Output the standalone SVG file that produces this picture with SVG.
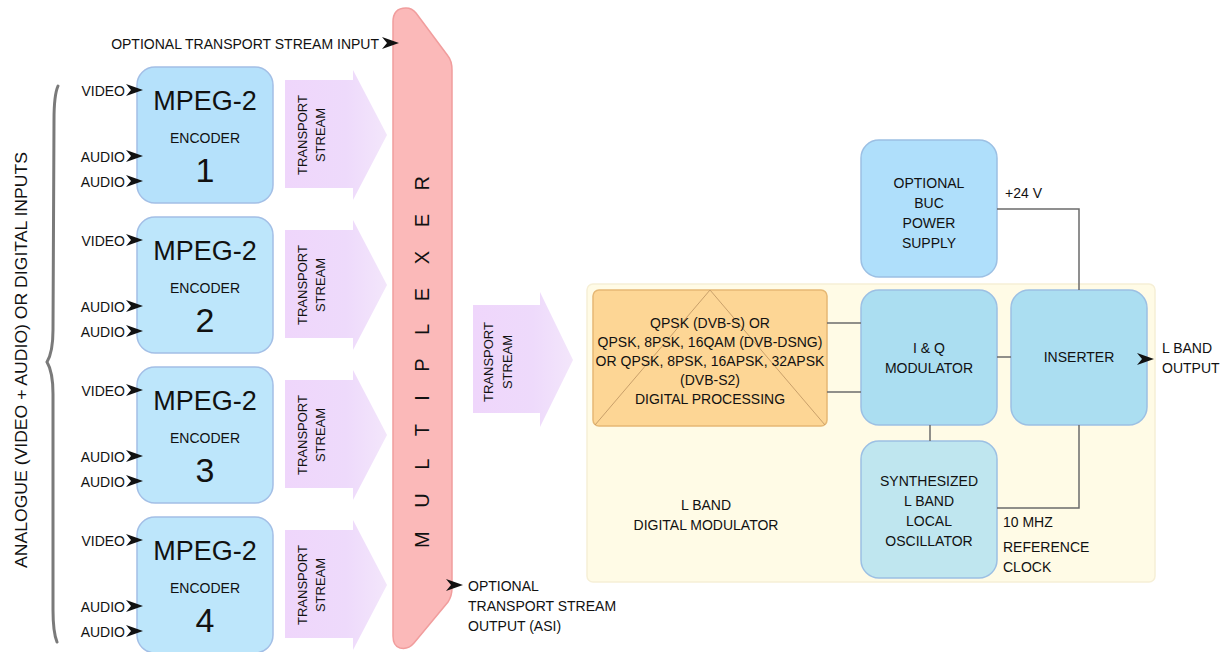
<svg xmlns="http://www.w3.org/2000/svg" xmlns:xlink="http://www.w3.org/1999/xlink" width="1229" height="652" viewBox="0 0 1229 652">
<style>
text{font-family:"Liberation Sans",Arial,sans-serif;fill:#111}
.enc{fill:#bde6fb;stroke:#a3bfe6;stroke-width:1.5}
.mpeg{font-size:27px;text-anchor:middle}
.encl{font-size:14px;text-anchor:middle}
.num{font-size:34px;text-anchor:middle}
.lbl{font-size:14px}
.lblr{font-size:14px;text-anchor:end}
.ts{fill:url(#tsg)}
.tst{font-size:13px;text-anchor:middle}
.blk{stroke:#9cc0e4;stroke-width:1.5}
.bt{font-size:14px;text-anchor:middle}
.wire{fill:none;stroke:#6b6b6b;stroke-width:1.5}
</style>
<defs>
<linearGradient id="tsg" x1="0" y1="0" x2="1" y2="0">
<stop offset="0" stop-color="#efd6fb"/>
<stop offset="0.6" stop-color="#eedafb"/>
<stop offset="1" stop-color="#f3e6fb"/>
</linearGradient>
<path id="ah" d="M-1,-6 L16,0 L-1,6 L4,0 Z" fill="#111"/>
</defs>
<rect width="1229" height="652" fill="#ffffff"/>

<!-- left brace and label -->
<g id="inputs-brace">
<path d="M58,86 Q54,95 54,120 L53,330 Q53,352 47,362 Q53,372 53,394 L53,610 Q53,632 57,642" fill="none" stroke="#7a7a7a" stroke-width="3" stroke-linecap="round"/>
<text transform="translate(27,360) rotate(-90)" font-size="16" text-anchor="middle" textLength="416" lengthAdjust="spacingAndGlyphs">ANALOGUE (VIDEO  + AUDIO) OR DIGITAL INPUTS</text>
</g>

<!-- Encoders -->
<g id="encoder1">
<rect class="enc" x="137" y="67" width="136" height="136" rx="18" style="fill:#b5e1fb"/>
<text class="mpeg" x="205" y="110">MPEG-2</text>
<text class="encl" x="205" y="143">ENCODER</text>
<text class="num" x="205" y="182">1</text>
</g>
<g id="encoder2">
<rect class="enc" x="137" y="217" width="136" height="136" rx="18"/>
<text class="mpeg" x="205" y="260">MPEG-2</text>
<text class="encl" x="205" y="293">ENCODER</text>
<text class="num" x="205" y="332">2</text>
</g>
<g id="encoder3">
<rect class="enc" x="137" y="367" width="136" height="136" rx="18"/>
<text class="mpeg" x="205" y="410">MPEG-2</text>
<text class="encl" x="205" y="443">ENCODER</text>
<text class="num" x="205" y="482">3</text>
</g>
<g id="encoder4">
<rect class="enc" x="137" y="517" width="136" height="136" rx="18"/>
<text class="mpeg" x="205" y="560">MPEG-2</text>
<text class="encl" x="205" y="593">ENCODER</text>
<text class="num" x="205" y="632">4</text>
</g>

<!-- Input labels -->
<g id="input-labels">
<text class="lblr" x="125" y="96">VIDEO</text>
<text class="lblr" x="125" y="162">AUDIO</text>
<text class="lblr" x="125" y="187">AUDIO</text>
<text class="lblr" x="125" y="246">VIDEO</text>
<text class="lblr" x="125" y="312">AUDIO</text>
<text class="lblr" x="125" y="337">AUDIO</text>
<text class="lblr" x="125" y="396">VIDEO</text>
<text class="lblr" x="125" y="462">AUDIO</text>
<text class="lblr" x="125" y="487">AUDIO</text>
<text class="lblr" x="125" y="546">VIDEO</text>
<text class="lblr" x="125" y="612">AUDIO</text>
<text class="lblr" x="125" y="637">AUDIO</text>
<text class="lblr" x="379" y="49">OPTIONAL TRANSPORT STREAM INPUT</text>
</g>

<!-- Transport stream arrows -->
<g id="ts1">
<path class="ts" d="M285,80 L353,80 L353,70 L387,135 L353,200 L353,188 L285,188 Z"/>
<text class="tst" transform="translate(307,135) rotate(-90)">TRANSPORT</text>
<text class="tst" transform="translate(325,135) rotate(-90)">STREAM</text>
</g>
<g id="ts2">
<path class="ts" d="M285,230 L353,230 L353,220 L387,285 L353,350 L353,338 L285,338 Z"/>
<text class="tst" transform="translate(307,285) rotate(-90)">TRANSPORT</text>
<text class="tst" transform="translate(325,285) rotate(-90)">STREAM</text>
</g>
<g id="ts3">
<path class="ts" d="M285,380 L353,380 L353,370 L387,435 L353,500 L353,488 L285,488 Z"/>
<text class="tst" transform="translate(307,435) rotate(-90)">TRANSPORT</text>
<text class="tst" transform="translate(325,435) rotate(-90)">STREAM</text>
</g>
<g id="ts4">
<path class="ts" d="M285,530 L353,530 L353,520 L387,585 L353,650 L353,638 L285,638 Z"/>
<text class="tst" transform="translate(307,585) rotate(-90)">TRANSPORT</text>
<text class="tst" transform="translate(325,585) rotate(-90)">STREAM</text>
</g>

<!-- Multiplexer -->
<g id="multiplexer">
<path d="M393,22 Q393,8 406,8 Q412,8 416,13 L448,56 Q452,61 452,70 L452,588 Q452,596 448,602 L414,643 Q408,650 400,648 Q393,646 393,636 Z" fill="#fbb9b9" stroke="#f19d9d" stroke-width="1.5"/>
<text transform="translate(429,362) rotate(-90)" font-size="20" text-anchor="middle" textLength="372" lengthAdjust="spacing">M U L T I P L E X E R</text>
</g>

<!-- Middle transport stream arrow -->
<g id="ts-main">
<path class="ts" d="M473,305 L540,305 L540,292 L573,360 L540,427 L540,413 L473,413 Z"/>
<text class="tst" transform="translate(493,362) rotate(-90)">TRANSPORT</text>
<text class="tst" transform="translate(512,362) rotate(-90)">STREAM</text>
</g>

<!-- L band digital modulator region -->
<g id="lband-modulator">
<rect x="587" y="284" width="568" height="298" rx="6" fill="#fffbe6" stroke="#f6efd6" stroke-width="1.5"/>
<text class="bt" x="706" y="510">L BAND</text>
<text class="bt" x="706" y="530">DIGITAL MODULATOR</text>
</g>

<g id="digital-processing">
<rect x="593" y="290" width="234" height="136" rx="6" fill="#fdd695" stroke="#e6b874" stroke-width="1.5"/>
<path d="M595,425 L710,290 L825,425" fill="none" stroke="#c9a06a" stroke-width="1"/>
<text class="bt" x="710" y="328">QPSK (DVB-S) OR</text>
<text class="bt" x="710" y="347">QPSK, 8PSK, 16QAM (DVB-DSNG)</text>
<text class="bt" x="710" y="366">OR QPSK, 8PSK, 16APSK, 32APSK</text>
<text class="bt" x="710" y="385">(DVB-S2)</text>
<text class="bt" x="710" y="404">DIGITAL PROCESSING</text>
</g>

<g id="buc-power">
<rect class="blk" x="861" y="140" width="136" height="137" rx="18" fill="#afdffb"/>
<text class="bt" x="929" y="188">OPTIONAL</text>
<text class="bt" x="929" y="208">BUC</text>
<text class="bt" x="929" y="228">POWER</text>
<text class="bt" x="929" y="248">SUPPLY</text>
</g>

<g id="iq-modulator">
<rect class="blk" x="861" y="290" width="136" height="135" rx="18" fill="#abdef1"/>
<text class="bt" x="929" y="353">I &amp; Q</text>
<text class="bt" x="929" y="373">MODULATOR</text>
</g>

<g id="inserter">
<rect class="blk" x="1011" y="290" width="136" height="135" rx="18" fill="#abdef1"/>
<text class="bt" x="1079" y="362">INSERTER</text>
</g>

<g id="synth-lo">
<rect class="blk" x="861" y="441" width="136" height="137" rx="18" fill="#bfe6ef"/>
<text class="bt" x="929" y="486">SYNTHESIZED</text>
<text class="bt" x="929" y="506">L BAND</text>
<text class="bt" x="929" y="526">LOCAL</text>
<text class="bt" x="929" y="546">OSCILLATOR</text>
</g>

<!-- Connectors -->
<g id="connectors">
<path class="wire" d="M827,323 L861,323"/>
<path class="wire" d="M827,392 L861,392"/>
<path class="wire" d="M997,357 L1011,357"/>
<path class="wire" d="M930,425 L930,441"/>
<path class="wire" d="M997,209 L1079,209 L1079,290"/>
<path class="wire" d="M1079,425 L1079,508 L997,508"/>
<use xlink:href="#ah" x="127" y="90"/>
<use xlink:href="#ah" x="127" y="156"/>
<use xlink:href="#ah" x="127" y="181"/>
<use xlink:href="#ah" x="127" y="240"/>
<use xlink:href="#ah" x="127" y="306"/>
<use xlink:href="#ah" x="127" y="331"/>
<use xlink:href="#ah" x="127" y="390"/>
<use xlink:href="#ah" x="127" y="456"/>
<use xlink:href="#ah" x="127" y="481"/>
<use xlink:href="#ah" x="127" y="540"/>
<use xlink:href="#ah" x="127" y="606"/>
<use xlink:href="#ah" x="127" y="631"/>
<use xlink:href="#ah" x="383" y="43"/>
<use xlink:href="#ah" x="447" y="585"/>
<use xlink:href="#ah" x="1138" y="359"/>
</g>

<!-- Other labels -->
<g id="labels">
<text class="lbl" x="1005" y="198">+24 V</text>
<text class="lbl" x="1162" y="353">L BAND</text>
<text class="lbl" x="1162" y="373">OUTPUT</text>
<text class="lbl" x="1003" y="527">10 MHZ</text>
<text class="lbl" x="1003" y="552">REFERENCE</text>
<text class="lbl" x="1003" y="572">CLOCK</text>
<text class="lbl" x="468" y="591">OPTIONAL</text>
<text class="lbl" x="468" y="611">TRANSPORT STREAM</text>
<text class="lbl" x="468" y="631">OUTPUT (ASI)</text>
</g>
</svg>
